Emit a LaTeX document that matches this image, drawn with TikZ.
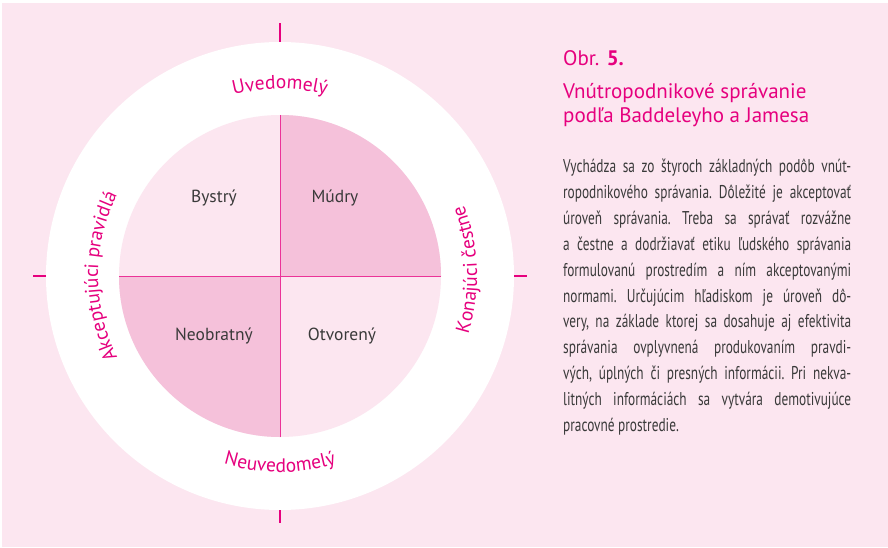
\documentclass[tikz,border=0pt]{standalone}
\usepackage{fontspec}
\setmainfont{PT Sans}
\newfontfamily\condfont[FakeStretch=0.72]{PT Sans}
\usetikzlibrary{decorations.text}

\definecolor{bgpink}{RGB}{252,230,240}
\definecolor{quadpink}{RGB}{245,193,218}
\definecolor{brandmag}{RGB}{230,0,126}
\definecolor{textgray}{RGB}{58,58,58}

\newcommand{\ringfont}{\fontsize{19.5}{22}\selectfont\color{brandmag}}

\tikzset{
  quadlabel/.style={font=\fontsize{17.5}{20}\selectfont, text=textgray},
  ringtick/.style={brandmag, line width=1.3pt},
  divider/.style={brandmag!80, line width=0.7pt},
  bodyline/.style={anchor=base west, inner sep=0pt, text=textgray,
    font=\condfont\fontsize{18.5}{21}\selectfont\frenchspacing},
}

\begin{document}
\begin{tikzpicture}[x=1pt,y=1pt]
    \useasboundingbox (0,0) rectangle (888,547);

    % Background
    \fill[bgpink] (2,0) rectangle (888,544);
    \coordinate (C) at (280,271);

    % Ring and quadrants
    \fill[white] (C) circle[radius=234];
    \fill[bgpink] (C) circle[radius=161];
    \fill[quadpink] (C) -- ([shift={(C)}]0:161) arc[start angle=0, end angle=90, radius=161] -- cycle;
    \fill[quadpink] (C) -- ([shift={(C)}]180:161) arc[start angle=180, end angle=270, radius=161] -- cycle;

    % Dividers
    \draw[divider] ([shift={(C)}]180:161) -- ([shift={(C)}]0:161);
    \draw[divider] ([shift={(C)}]270:161) -- ([shift={(C)}]90:161);

    % Ticks
    \foreach \a/\l in {0/13, 90/19, 180/13, 270/13}
        \draw[ringtick] ([shift={(C)}]\a:234) -- ([shift={(C)}]\a:234+\l);

    % Ring labels
    \path[decorate, decoration={text along path, text align=center,
        text={|\ringfont|Uvedomelý}}]
        ([shift={(C)}]150:187) arc[start angle=150, end angle=30, radius=187];
    \path[decorate, decoration={text along path, text align=center,
        text={|\ringfont|Neuvedomelý}}]
        ([shift={(C)}]210:196) arc[start angle=210, end angle=330, radius=196];
    \path[decorate, decoration={text along path, text align=center,
        text={|\ringfont|Akceptujúci pravidlá}}]
        ([shift={(C)}]245:182) arc[start angle=245, end angle=115, radius=182];
    \path[decorate, decoration={text along path, text align=center,
        text={|\ringfont|Konajúci čestne}}]
        ([shift={(C)}]-38:197) arc[start angle=-38, end angle=42, radius=197];

    % Quadrant labels
    \node[quadlabel] (bystry) at (214,349) {Bystrý};
    \node[quadlabel] (mudry) at (335,349) {Múdry};
    \node[quadlabel] (neobratny) at (214,211) {Neobratný};
    \node[quadlabel] (otvoreny) at (342,211) {Otvorený};

    % Caption
    \node[anchor=base west, inner sep=0pt, text=brandmag,
        font=\fontsize{21}{24}\selectfont] (obr) at (563,481) {Obr. \textbf{5.}};
    \node[anchor=base west, inner sep=0pt, text=brandmag,
        font=\fontsize{21}{24}\selectfont] (title1) at (563,448) {Vnútropodnikové správanie};
    \node[anchor=base west, inner sep=0pt, text=brandmag,
        font=\fontsize{21}{24}\selectfont] (title2) at (563,424) {podľa Baddeleyho a Jamesa};

    % Body text
    \foreach \txt [count=\i] in {
        {Vychádza sa zo štyroch základných podôb vnút-},
        {ropodnikového správania. Dôležité je akceptovať},
        {úroveň správania. Treba sa správať rozvážne},
        {a čestne a dodržiavať etiku ľudského správania},
        {formulovanú prostredím a ním akceptovanými},
        {normami. Určujúcim hľadiskom je úroveň dô-},
        {very, na základe ktorej sa dosahuje aj efektivita},
        {správania ovplyvnená produkovaním pravdi-},
        {vých, úplných či presných informácii. Pri nekva-},
        {litných informáciách sa vytvára demotivujúce}}
        \node[bodyline] (line\i) at (563,{374-25.8*(\i-1)}) {\makebox[288pt][s]{\txt}};
    \node[bodyline] (line11) at (563,116) {pracovné prostredie.};
\end{tikzpicture}
\end{document}
